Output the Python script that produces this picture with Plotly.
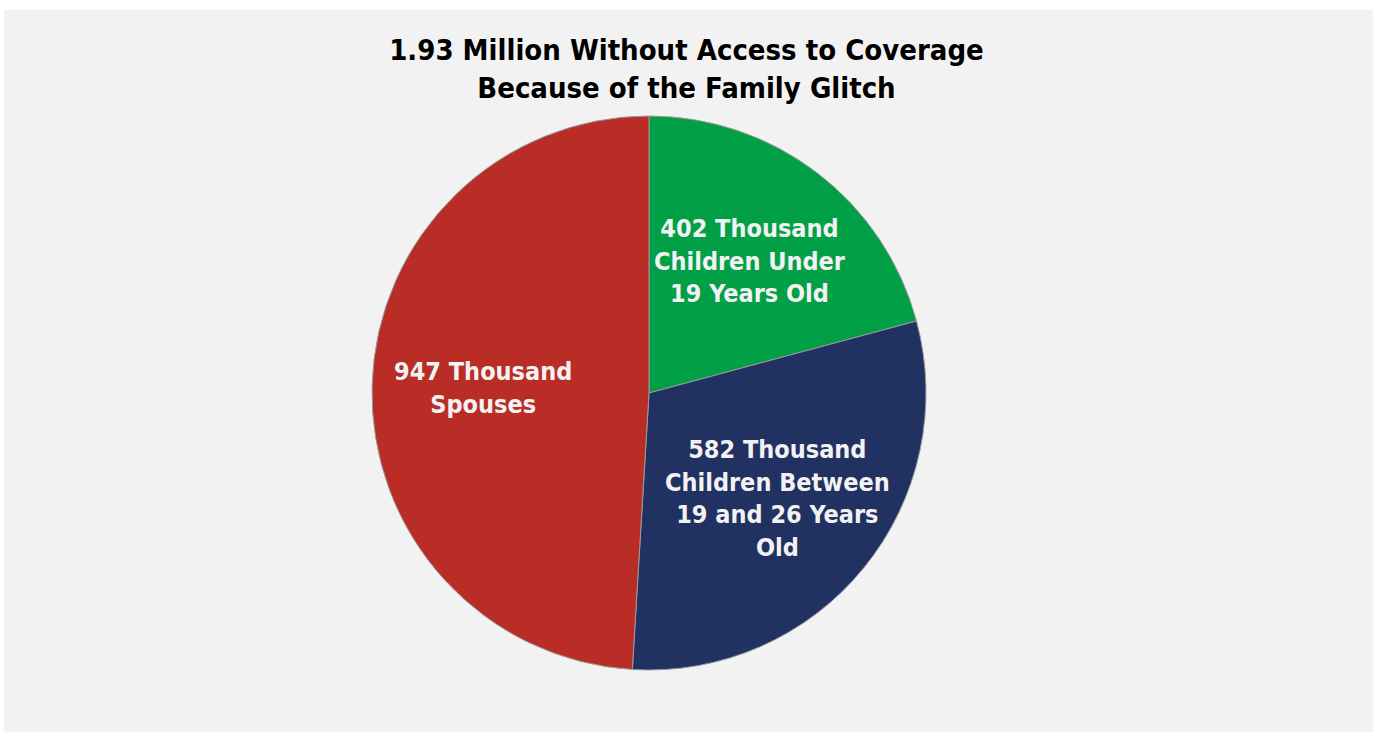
import math
import plotly.graph_objects as go

categories = ["402 Thousand<br>Children Under<br>19 Years Old",
              "582 Thousand<br>Children Between<br>19 and 26 Years<br>Old",
              "947 Thousand<br>Spouses"]
values = [402, 582, 947]
colors = ["#02A046", "#213162", "#BA2D27"]
title_lines = ["1.93 Million Without Access to Coverage", "Because of the Family Glitch"]

W, H = 1373, 732
cx, cy, r = 649, 393, 277
label_r = 0.6
label_font = dict(family="DejaVu Sans Condensed", size=25, color="#f2f2f2", weight="bold")

fig = go.Figure(go.Pie(
    labels=categories,
    values=values,
    sort=False,
    direction="clockwise",
    rotation=0,
    marker=dict(colors=colors, line=dict(color="#9a9a9a", width=1)),
    textinfo="none",
    hoverinfo="label+value",
    showlegend=False,
    domain=dict(x=[(cx - r) / W, (cx + r) / W], y=[(H - cy - r) / H, (H - cy + r) / H]),
))

# labels placed at each slice's mid-angle (derived from the values)
total = sum(values)
annotations = []
cum = 0
for lab, v in zip(categories, values):
    mid = (cum + v / 2) / total * 2 * math.pi  # clockwise from 12 o'clock
    cum += v
    px = cx + label_r * r * math.sin(mid)
    py = cy - label_r * r * math.cos(mid)
    annotations.append(dict(
        x=px / W, y=1 - py / H, xref="paper", yref="paper",
        text=lab, showarrow=False, xanchor="center", yanchor="middle",
        align="center", font=label_font,
    ))

fig.update_layout(
    width=W, height=H,
    margin=dict(l=0, r=0, t=0, b=0),
    paper_bgcolor="white",
    plot_bgcolor="#f2f2f2",
    title=dict(
        text="<br>".join(title_lines),
        x=0.5, xanchor="center",
        y=1 - 60 / H, yanchor="top",
        font=dict(family="DejaVu Sans Condensed", size=29, color="#000000", weight="bold"),
    ),
    annotations=annotations,
    shapes=[dict(type="rect", xref="paper", yref="paper",
                 x0=4 / W, x1=1, y0=0, y1=1 - 10 / H,
                 fillcolor="#f2f2f2", line=dict(width=0), layer="below")],
)

fig.write_html("out.html", config={"displayModeBar": False},
               post_script="document.body.style.margin='0px';document.body.style.overflow='hidden';")
